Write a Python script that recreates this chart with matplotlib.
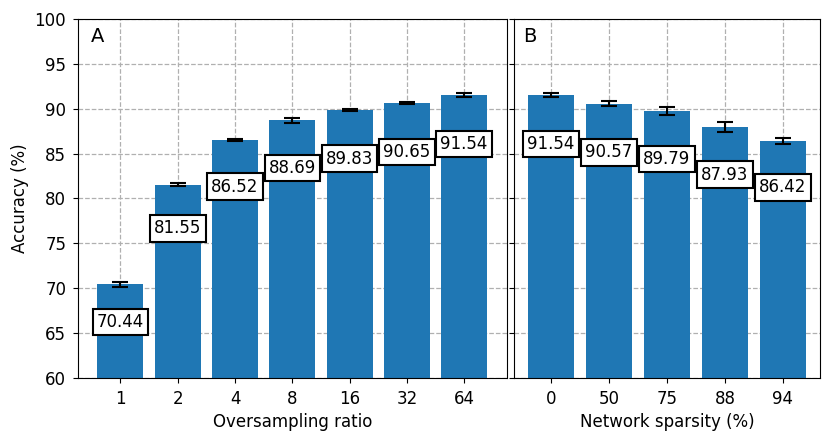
import matplotlib
matplotlib.use("Agg")
import matplotlib.pyplot as plt
import numpy as np

ratios = ["1", "2", "4", "8", "16", "32", "64"]
acc_ratio = [70.44, 81.55, 86.52, 88.69, 89.83, 90.65, 91.54]
err_ratio = [0.3, 0.15, 0.15, 0.25, 0.1, 0.15, 0.2]

sparsity = ["0", "50", "75", "88", "94"]
acc_sparse = [91.54, 90.57, 89.79, 87.93, 86.42]
err_sparse = [0.2, 0.25, 0.45, 0.55, 0.3]

fig, (ax1, ax2) = plt.subplots(1, 2, figsize=(8.3, 4.41), dpi=100, sharey=True,
                               gridspec_kw={"width_ratios": [7, 5], "wspace": 0.02})
fig.subplots_adjust(left=0.094, right=0.988, top=0.957, bottom=0.143)

def panel(ax, cats, vals, errs, xlabel, letter):
    x = np.arange(len(cats))
    ax.set_axisbelow(True)
    ax.grid(True, linestyle="--", color="#b0b0b0", linewidth=0.9)
    ax.bar(x, vals, width=0.8, color="#1f77b4", yerr=errs, capsize=6,
           error_kw={"elinewidth": 1.5, "capthick": 1.5, "ecolor": "black"})
    for xi, v in zip(x, vals):
        ax.text(xi, v * 0.94, f"{v:.2f}", ha="center", va="center", fontsize=12,
                bbox=dict(boxstyle="square,pad=0.25", facecolor="white", edgecolor="black", linewidth=1.5))
    ax.set_xticks(x)
    ax.set_xticklabels(cats, fontsize=12)
    ax.tick_params(axis="x", pad=5)
    ax.set_xlabel(xlabel, fontsize=12)
    ax.text(0.03, 0.935, letter, transform=ax.transAxes, fontsize=14, va="baseline", ha="left")

panel(ax1, ratios, acc_ratio, err_ratio, "Oversampling ratio", "A")
panel(ax2, sparsity, acc_sparse, err_sparse, "Network sparsity (%)", "B")
ax1.set_ylim(60, 100)
ax1.set_ylabel("Accuracy (%)", fontsize=12)
ax1.tick_params(axis="y", labelsize=12, pad=5)
ax2.tick_params(axis="y", labelleft=False)

fig.savefig("out.png", dpi=100)
